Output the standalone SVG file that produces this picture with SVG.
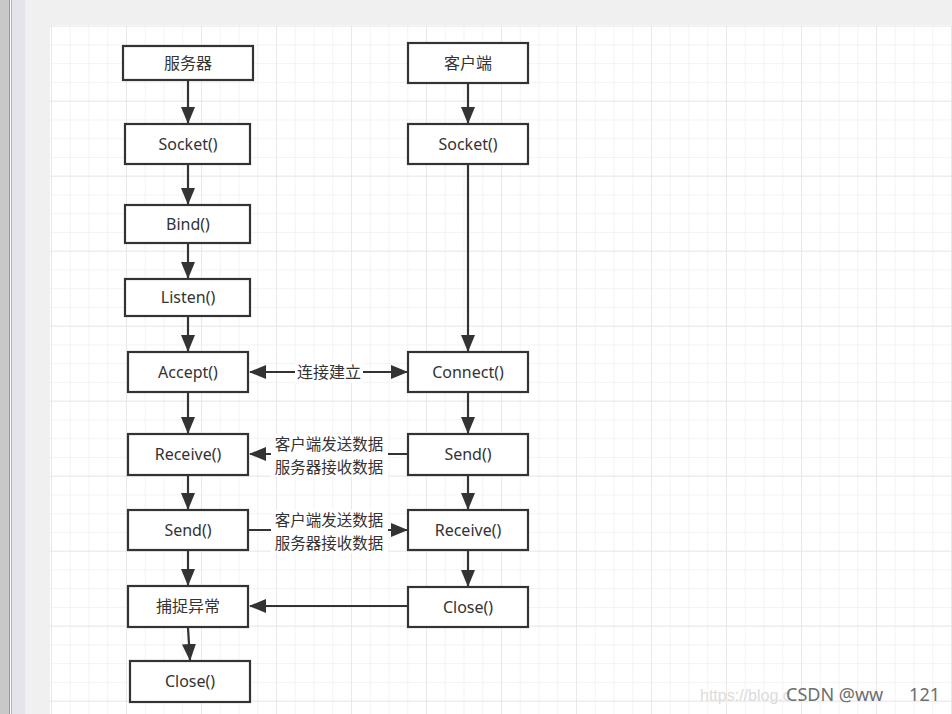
<svg xmlns="http://www.w3.org/2000/svg" width="952" height="714" viewBox="0 0 952 714">
  <defs>
    <pattern id="minor" x="51" y="25.7" width="18.75" height="18.75" patternUnits="userSpaceOnUse">
      <path d="M0,0 V18.75 M0,0 H18.75" fill="none" stroke="#efefef" stroke-width="1.5"/>
    </pattern>
    <pattern id="major" x="51" y="25.7" width="75" height="75" patternUnits="userSpaceOnUse">
      <path d="M0,0 V75 M0,0 H75" fill="none" stroke="#e6e6e6" stroke-width="1.5"/>
    </pattern>
    <marker id="ah" markerUnits="userSpaceOnUse" markerWidth="17" markerHeight="14" viewBox="0 0 17 14" refX="16" refY="7" orient="auto-start-reverse">
      <path d="M0,0 L17,7 L0,14 z" fill="#333"/>
    </marker>
  </defs>
  <style>
    .box { fill: #ffffff; stroke: #333333; stroke-width: 2.2; }
    .lbl { font-family: "Noto Sans", "Noto Sans CJK SC", sans-serif; font-size: 16px; fill: #333333; text-anchor: middle; }
    .cn { font-family: "Noto Sans CJK SC", "Noto Sans", sans-serif; font-size: 16px; fill: #333333; text-anchor: middle; }
    .cn2 { font-family: "Noto Sans CJK SC", "Noto Sans", sans-serif; font-size: 15.5px; fill: #333333; text-anchor: middle; }
    .edge { fill: none; stroke: #333333; stroke-width: 2.2; }
    .bg { fill: #ffffff; }
  </style>

  <!-- window background -->
  <rect x="0" y="0" width="952" height="714" fill="#f0f0f0"/>
  <rect x="0" y="0" width="9" height="714" fill="#c8c8c8"/>
  <rect x="9" y="0" width="1" height="714" fill="#9a9a9a"/>
  <rect x="10" y="0" width="1" height="714" fill="#ffffff"/>
  <rect x="11" y="0" width="1" height="714" fill="#b4b4b4"/>
  <rect x="12" y="0" width="13" height="714" fill="#e4e4ea"/>

  <!-- grid paper -->
  <rect x="50" y="25" width="902" height="689" fill="#ffffff"/>
  <rect x="50" y="25" width="902" height="689" fill="url(#minor)"/>
  <rect x="50" y="25" width="902" height="689" fill="url(#major)"/>

  <!-- connectors -->
  <g id="connectors">
    <line class="edge" x1="188" y1="81" x2="188" y2="123" marker-end="url(#ah)"/>
    <line class="edge" x1="188" y1="165" x2="188" y2="204" marker-end="url(#ah)"/>
    <line class="edge" x1="188" y1="244" x2="188" y2="278" marker-end="url(#ah)"/>
    <line class="edge" x1="188" y1="317" x2="188" y2="351" marker-end="url(#ah)"/>
    <line class="edge" x1="188" y1="393" x2="188" y2="433" marker-end="url(#ah)"/>
    <line class="edge" x1="188" y1="476" x2="188" y2="509" marker-end="url(#ah)"/>
    <line class="edge" x1="188" y1="551" x2="188" y2="585" marker-end="url(#ah)"/>
    <line class="edge" x1="188" y1="628" x2="190" y2="660" marker-end="url(#ah)"/>

    <line class="edge" x1="468" y1="84" x2="468" y2="123" marker-end="url(#ah)"/>
    <line class="edge" x1="468" y1="165" x2="468" y2="351" marker-end="url(#ah)"/>
    <line class="edge" x1="468" y1="393" x2="468" y2="433" marker-end="url(#ah)"/>
    <line class="edge" x1="468" y1="476" x2="468" y2="509" marker-end="url(#ah)"/>
    <line class="edge" x1="468" y1="551" x2="468" y2="586" marker-end="url(#ah)"/>

    <line class="edge" x1="250" y1="372" x2="407" y2="372" marker-start="url(#ah)" marker-end="url(#ah)"/>
    <rect class="bg" x="295" y="362" width="68" height="21"/>
    <text class="cn" x="329" y="378">连接建立</text>

    <line class="edge" x1="408" y1="454" x2="250" y2="454" marker-end="url(#ah)"/>
    <rect class="bg" x="271" y="434" width="117" height="43"/>
    <text class="cn2" x="329" y="450">客户端发送数据<tspan x="329" dy="22.5">服务器接收数据</tspan></text>

    <line class="edge" x1="249" y1="530" x2="407" y2="530" marker-end="url(#ah)"/>
    <rect class="bg" x="271" y="510" width="117" height="43"/>
    <text class="cn2" x="329" y="526">客户端发送数据<tspan x="329" dy="22.5">服务器接收数据</tspan></text>

    <line class="edge" x1="408" y1="606" x2="250" y2="606" marker-end="url(#ah)"/>
  </g>

  <!-- server column -->
  <g id="server">
    <rect class="box" x="123" y="46" width="130" height="34"/>
    <text class="cn" x="188" y="69">服务器</text>
  </g>
  <g id="server-socket">
    <rect class="box" x="125" y="124" width="125" height="40"/>
    <text class="lbl" x="188" y="150">Socket()</text>
  </g>
  <g id="server-bind">
    <rect class="box" x="125" y="205" width="125" height="38"/>
    <text class="lbl" x="188" y="230">Bind()</text>
  </g>
  <g id="server-listen">
    <rect class="box" x="125" y="279" width="125" height="37"/>
    <text class="lbl" x="188" y="303">Listen()</text>
  </g>
  <g id="server-accept">
    <rect class="box" x="128" y="352" width="120" height="40"/>
    <text class="lbl" x="188" y="378">Accept()</text>
  </g>
  <g id="server-receive">
    <rect class="box" x="128" y="434" width="120" height="41"/>
    <text class="lbl" x="188" y="460">Receive()</text>
  </g>
  <g id="server-send">
    <rect class="box" x="128" y="510" width="120" height="40"/>
    <text class="lbl" x="188" y="536">Send()</text>
  </g>
  <g id="server-catch">
    <rect class="box" x="128" y="586" width="120" height="41"/>
    <text class="cn" x="188" y="612">捕捉异常</text>
  </g>
  <g id="server-close">
    <rect class="box" x="130" y="661" width="120" height="41"/>
    <text class="lbl" x="190" y="687">Close()</text>
  </g>

  <!-- client column -->
  <g id="client">
    <rect class="box" x="408" y="43" width="120" height="40"/>
    <text class="cn" x="468" y="69">客户端</text>
  </g>
  <g id="client-socket">
    <rect class="box" x="408" y="124" width="120" height="40"/>
    <text class="lbl" x="468" y="150">Socket()</text>
  </g>
  <g id="client-connect">
    <rect class="box" x="408" y="352" width="120" height="40"/>
    <text class="lbl" x="468" y="378">Connect()</text>
  </g>
  <g id="client-send">
    <rect class="box" x="408" y="434" width="120" height="41"/>
    <text class="lbl" x="468" y="460">Send()</text>
  </g>
  <g id="client-receive">
    <rect class="box" x="408" y="510" width="120" height="40"/>
    <text class="lbl" x="468" y="536">Receive()</text>
  </g>
  <g id="client-close">
    <rect class="box" x="408" y="587" width="120" height="40"/>
    <text class="lbl" x="468" y="613">Close()</text>
  </g>

  <!-- watermark -->
  <text x="700" y="701" font-family="Liberation Sans, sans-serif" font-size="16" fill="#dcdcdc">https://blog.c</text>
  <text x="786" y="701" font-family="Noto Sans, sans-serif" font-size="18" fill="#6e6e6e">CSDN @ww<tspan x="940" text-anchor="end">121</tspan></text>
</svg>
